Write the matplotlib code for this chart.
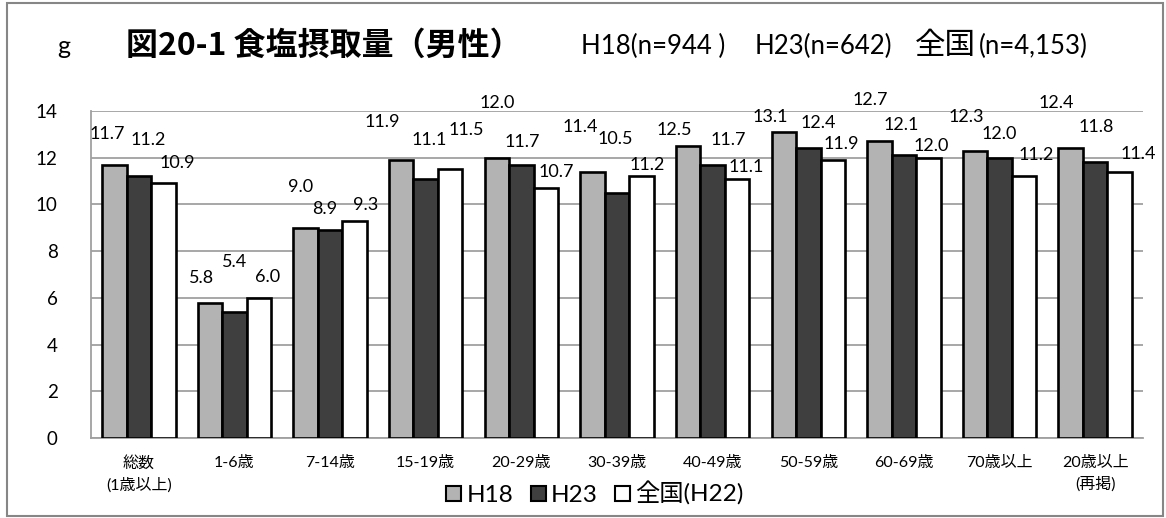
import matplotlib
matplotlib.use('Agg')
import matplotlib.pyplot as plt
import numpy as np
from matplotlib.patches import Rectangle

# ---- data ----
categories = ['総数\n(1歳以上)', '1-6歳', '7-14歳', '15-19歳', '20-29歳', '30-39歳',
              '40-49歳', '50-59歳', '60-69歳', '70歳以上', '20歳以上\n(再掲)']
series_names = ['H18', 'H23', '全国(H22)']
h18 = [11.7, 5.8, 9.0, 11.9, 12.0, 11.4, 12.5, 13.1, 12.7, 12.3, 12.4]
h23 = [11.2, 5.4, 8.9, 11.1, 11.7, 10.5, 11.7, 12.4, 12.1, 12.0, 11.8]
zenkoku = [10.9, 6.0, 9.3, 11.5, 10.7, 11.2, 11.1, 11.9, 12.0, 11.2, 11.4]
y_ticks = [0, 2, 4, 6, 8, 10, 12, 14]

# ---- layout: data-label offsets from bar top (pixels: dx, up) ----
off_h18 = [(-7, 31), (-8, 25), (-5, 41), (-19, 38), (0, 55), (-12, 45),
           (-14, 16), (-14, 15), (-9, 41), (-9, 34), (-14, 45)]
off_h23 = [(9, 36), (0, 50), (-5, 21), (3, 39), (1, 23), (-2, 54),
           (16, 25), (10, 25), (-3, 30), (0, 24), (1, 35)]
off_zen = [(14, 20), (9, 21), (11, 16), (16, 39), (10, 16), (6, 11),
           (9, 12), (9, 16), (3, 12), (12, 21), (19, 18)]

plt.rcParams['font.family'] = ['Lato', 'Noto Sans CJK JP', 'DejaVu Sans']

W, H = 1166, 518
fig = plt.figure(figsize=(W / 100, H / 100), dpi=100)
fig.patch.set_facecolor('white')

def fx(px):
    return px / W

def fy(py):
    return 1 - py / H

ax = fig.add_axes([fx(91), fy(438), (1143 - 91) / W, (438 - 111) / H])

x = np.arange(len(categories))
bw = 0.256
colors = ['#b3b3b3', '#3f3f3f', '#ffffff']
series = [h18, h23, zenkoku]
offsets = [off_h18, off_h23, off_zen]
grid_c = '#a0a0a0'

for i, (vals, col, offs) in enumerate(zip(series, colors, offsets)):
    xs = x + (i - 1) * bw
    ax.bar(xs, vals, width=bw, color=col, edgecolor='black', linewidth=1.9, zorder=3)
    for xi, v, (dx, up) in zip(xs, vals, offs):
        ax.annotate(f'{v:.1f}', xy=(xi, v), xytext=(dx * 0.72, up * 0.72),
                    textcoords='offset points', ha='center', va='center',
                    fontsize=13, color='black', zorder=4)

ax.set_xlim(-0.5, len(categories) - 0.5)
ax.set_ylim(0, 14)
ax.set_yticks(y_ticks)
ax.set_yticklabels([str(t) for t in y_ticks])
ax.set_xticks(x)
ax.set_xticklabels(categories, fontsize=11.5, linespacing=1.55)
ax.tick_params(axis='y', length=0, pad=24, labelsize=13.5)
ax.tick_params(axis='x', length=0, pad=13)
ax.yaxis.grid(True, color=grid_c, linewidth=1.3, zorder=0)
ax.set_axisbelow(True)
for s in ['top', 'right']:
    ax.spines[s].set_visible(False)
for s in ['left', 'bottom']:
    ax.spines[s].set_color(grid_c)
    ax.spines[s].set_linewidth(1.3)

# legend
handles = [Rectangle((0, 0), 1, 1, facecolor=c, edgecolor='black', linewidth=1.5) for c in colors]
fig.legend(handles, series_names, loc='center', bbox_to_anchor=(fx(595), fy(494)),
           ncol=3, frameon=False, fontsize=17.5, handlelength=0.62, handleheight=0.62,
           handletextpad=0.22, columnspacing=0.7, borderpad=0)

# texts
fig.text(fx(64), fy(47), 'g', fontsize=18, ha='center', va='center')
fig.text(fx(126), fy(46), '図20-1 食塩摂取量（男性）', fontsize=23, fontweight='bold',
         family=['Noto Sans CJK JP'], ha='left', va='center')
fig.text(fx(581), fy(46), 'H18(n=944 )', fontsize=18.5, ha='left', va='center')
fig.text(fx(755), fy(46), 'H23(n=642)', fontsize=18.5, ha='left', va='center')
fig.text(fx(915), fy(46), '全国', fontsize=22, family=['Noto Sans CJK JP'],
         ha='left', va='center')
fig.text(fx(979), fy(46), '(n=4,153)', fontsize=18.5, ha='left', va='center')

# outer frame
fig.patches.append(Rectangle((fx(7), fy(516)), fx(1163) - fx(7), fy(3) - fy(516),
                             transform=fig.transFigure, fill=False,
                             edgecolor='#868686', linewidth=1.5))

fig.savefig('out.png', dpi=100)
